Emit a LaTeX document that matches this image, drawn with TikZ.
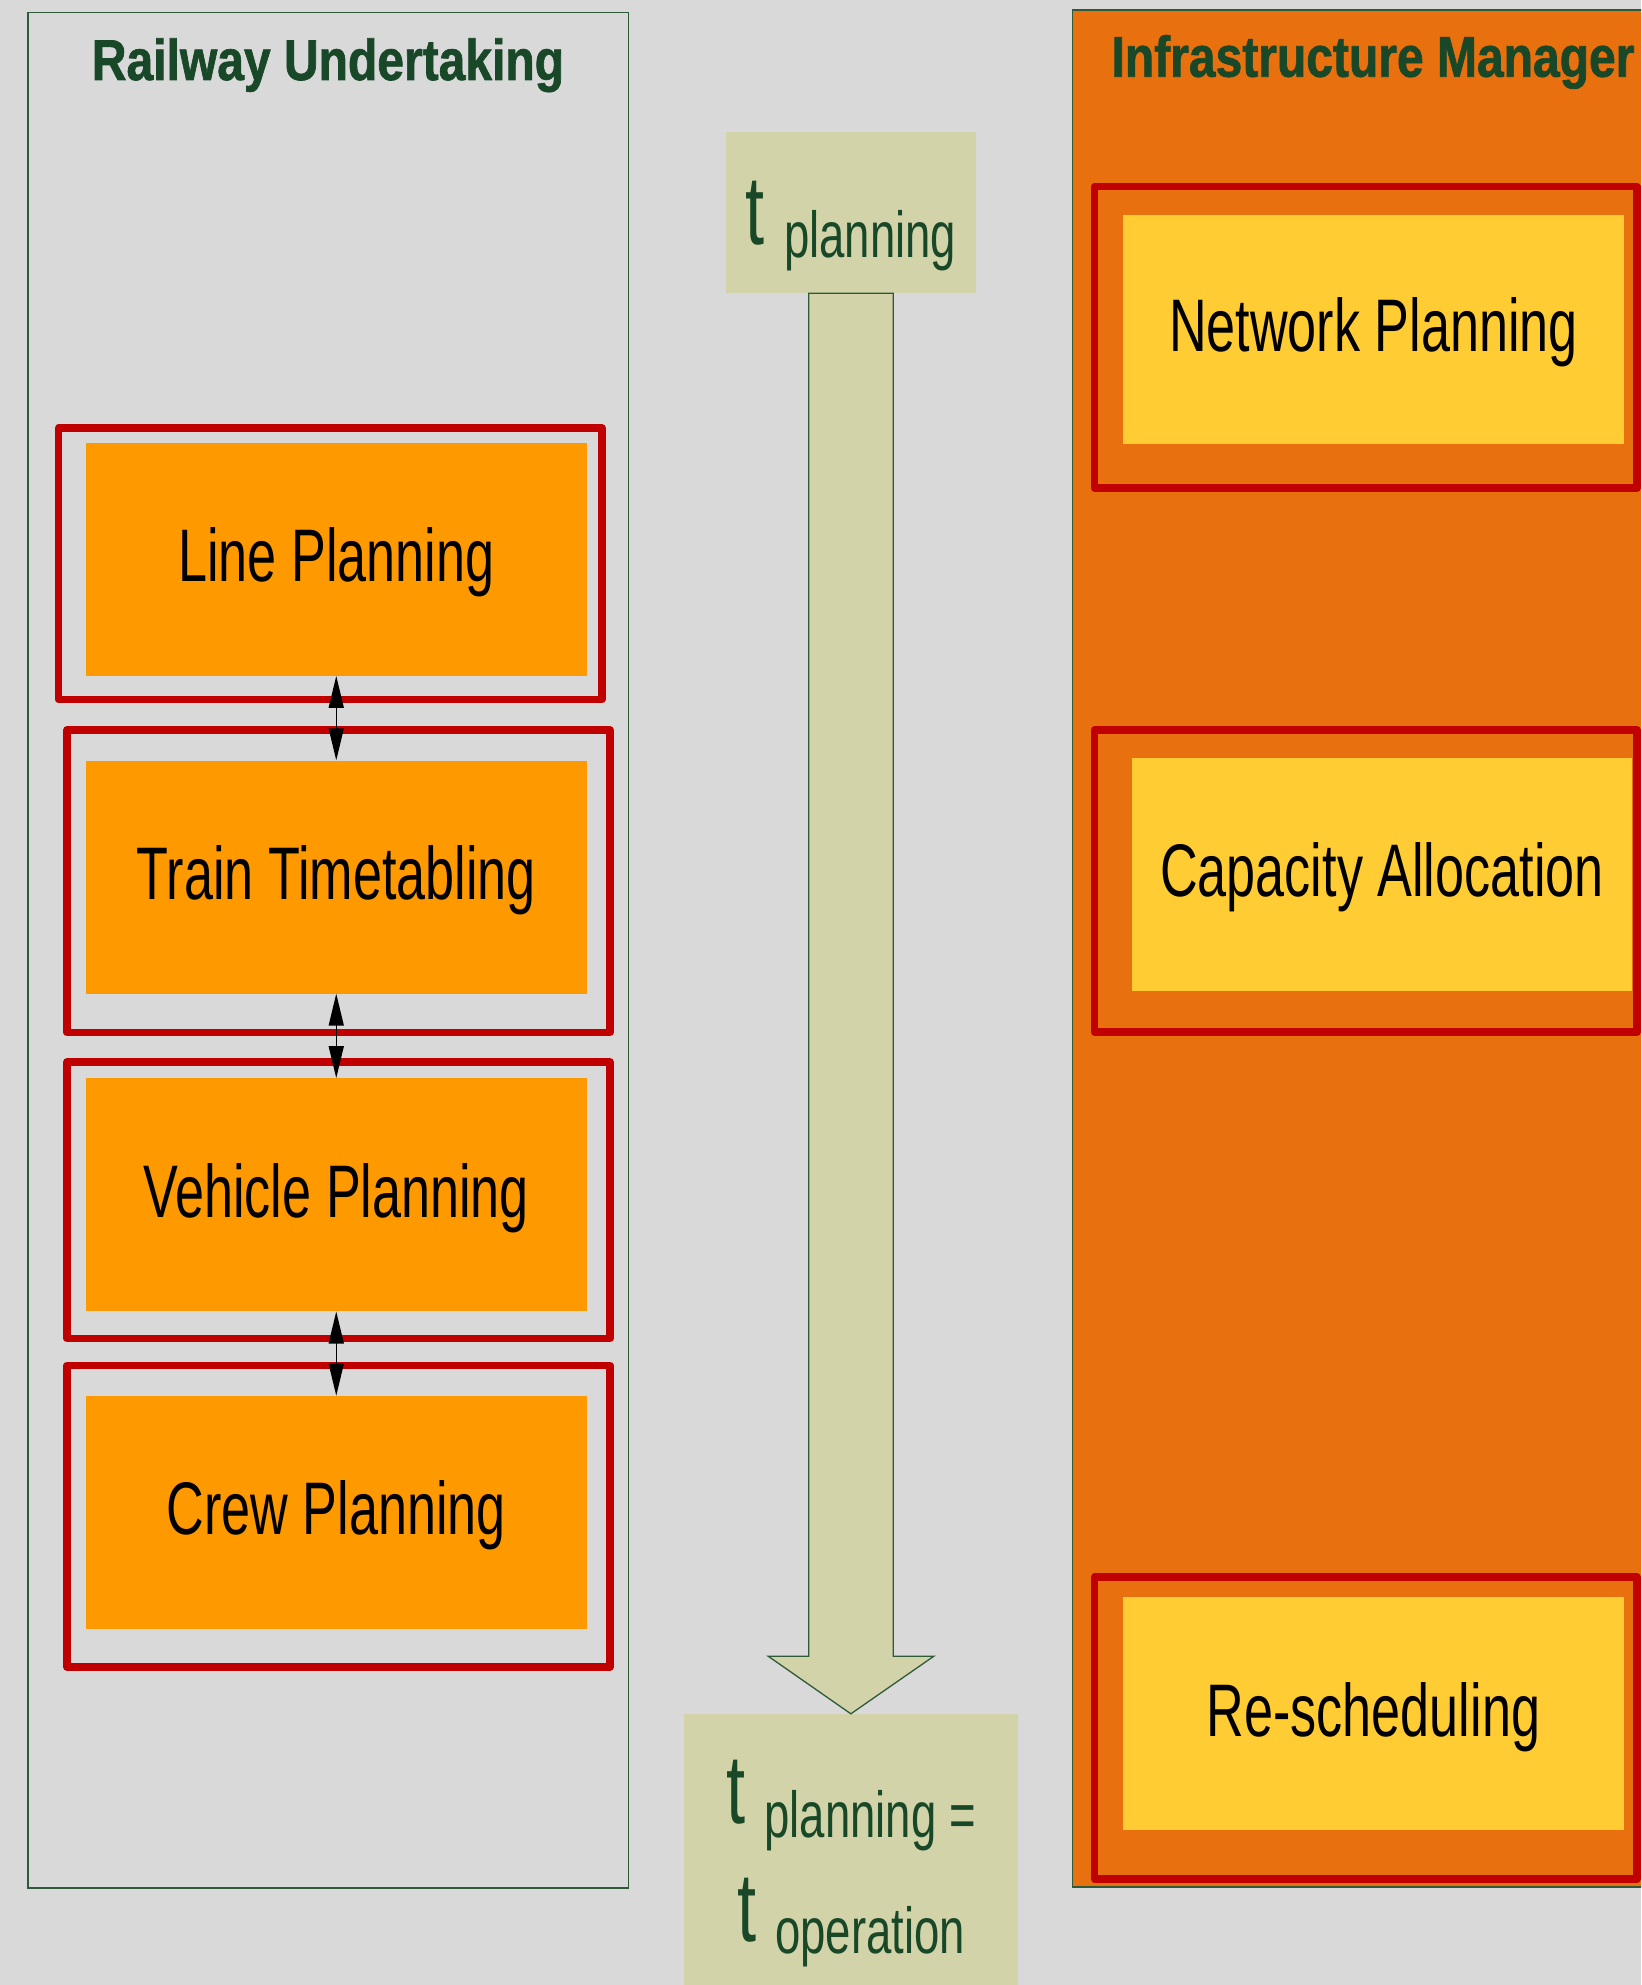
\documentclass[tikz,border=0pt]{standalone}
\usepackage{fontspec}
\setmainfont{Liberation Sans}
\newfontfamily\labfont[FakeStretch=0.70]{Liberation Sans}
\newfontfamily\ttlfont[FakeStretch=0.835,FakeBold=1.2]{Liberation Sans Bold}
\usetikzlibrary{arrows.meta,calc}
\definecolor{bgC}{HTML}{D9D9D9}
\definecolor{orangeC}{HTML}{FF9900}
\definecolor{imC}{HTML}{E8700E}
\definecolor{yellowC}{HTML}{FFCC33}
\definecolor{redC}{HTML}{C00000}
\definecolor{midC}{HTML}{D2D3A9}
\definecolor{tgreen}{HTML}{184828}
\definecolor{clgreen}{HTML}{2F5A3A}
\newcommand{\bigtfont}{\labfont\fontsize{98}{100}\selectfont}
\newcommand{\subtfont}{\labfont\fontsize{65}{70}\selectfont}
\begin{document}
\begin{tikzpicture}[x=1pt,y=-1pt,
  cluster/.style={draw=clgreen, line width=1.3pt, inner sep=0pt},
  title/.style={anchor=base, text=tgreen, inner sep=0pt, font=\ttlfont\fontsize{57.5}{60}\selectfont},
  task/.style={fill=orangeC, minimum width=500.5pt, minimum height=233pt, inner sep=0pt,
    font=\labfont\fontsize{74.5}{80}\selectfont, text height=53pt, text depth=8pt},
  imtask/.style={task, fill=yellowC},
  redframe/.style={draw=redC, line width=7.5pt, line join=round, inner sep=0pt},
  midbox/.style={fill=midC, inner sep=0pt},
  tlabel/.style={text=tgreen, anchor=base, inner sep=0pt},
  link/.style={{Triangle[length=32pt,width=15pt]}-{Triangle[length=32pt,width=15pt]}, line width=1.5pt, black}
]
\useasboundingbox (0,0) rectangle (1641,1985);
\clip (0,0) rectangle (1641,1985);
\fill[bgC] (0,0) rectangle (1641,1985);

% clusters
\node[cluster, fill=bgC, minimum width=600.4pt, minimum height=1875.3pt] (ru) at (328.1,950.35) {};
\node[cluster, fill=imC, minimum width=602.5pt, minimum height=1877pt] (im) at (1373.75,948.5) {};
\node[title] (rutitle) at (328,80) {Railway Undertaking};
\node[title] (imtitle) at (1373,76.7) {Infrastructure Manager};

% red frames (left)
\node[redframe, minimum width=543.3pt, minimum height=271.5pt] (lpframe) at (330.35,563.75) {};
\node[redframe, minimum width=543pt, minimum height=302.5pt] (ttframe) at (338.5,881.25) {};
\node[redframe, minimum width=543pt, minimum height=276.5pt] (vpframe) at (338.5,1200.25) {};
\node[redframe, minimum width=543pt, minimum height=301.5pt] (cpframe) at (338.5,1516.25) {};

% red frames (right)
\node[redframe, minimum width=542.5pt, minimum height=301.5pt] (npframe) at (1365.75,337.25) {};
\node[redframe, minimum width=542.5pt, minimum height=302pt] (caframe) at (1365.75,881) {};
\node[redframe, minimum width=542.5pt, minimum height=302pt] (rsframe) at (1365.75,1728) {};

% tasks
\node[task] (lp) at (336.25,559.2) {Line Planning};
\node[task] (tt) at (336.25,877) {Train Timetabling};
\node[task] (vp) at (336.25,1194.8) {Vehicle Planning};
\node[task] (cp) at (336.25,1512.4) {Crew Planning};

\node[imtask, minimum height=229pt] (np) at (1373.5,329.4) {Network Planning};
\node[imtask] (ca) at (1382,874.2) {Capacity Allocation};
\node[imtask] (rs) at (1373.5,1713.5) {Re-scheduling};

% links
\draw[link] (lp.south) -- (tt.north);
\draw[link] (tt.south) -- (vp.north);
\draw[link] (vp.south) -- (cp.north);

% time axis
\node[midbox, minimum width=250pt, minimum height=161pt] (tp) at (851,212.5) {};
\node[midbox, minimum width=333.7pt, minimum height=296pt] (te) at (850.85,1862) {};
\draw[fill=midC, draw=clgreen, line width=1.3pt, line join=miter]
  ($(tp.south)+(-42.25,0)$) -- ($(tp.south)+(-42.25,1363)$) -- ($(tp.south)+(-82.8,1363)$)
  -- (te.north) -- ($(tp.south)+(82.8,1363)$) -- ($(tp.south)+(42.25,1363)$)
  -- ($(tp.south)+(42.25,0)$) -- cycle;
\node[tlabel] (tptext) at (851,245) {{\bigtfont t }\raisebox{-12.7pt}{\subtfont planning}};
\node[tlabel] (te1) at (851,1823) {{\bigtfont t }\raisebox{-14pt}{\subtfont planning =}};
\node[tlabel] (te2) at (851,1941) {{\bigtfont t }\raisebox{-12pt}{\subtfont operation}};
\end{tikzpicture}
\end{document}
